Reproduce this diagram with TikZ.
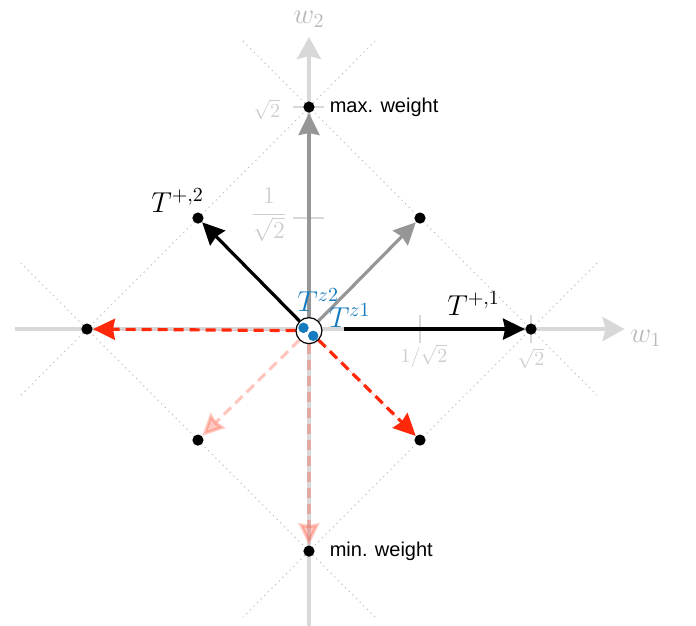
\documentclass[tikz,border=0pt]{standalone}
\usepackage{fontspec}
\setsansfont{Liberation Sans}
\usetikzlibrary{arrows.meta,positioning}
\definecolor{axisgray}{RGB}{216,216,216}
\definecolor{axislabel}{RGB}{185,185,185}
\definecolor{ticklabel}{RGB}{205,205,205}
\definecolor{mirrorgray}{RGB}{190,190,190}
\definecolor{rootgray}{RGB}{150,150,150}
\definecolor{lowred}{RGB}{255,40,10}
\definecolor{zeroblue}{RGB}{22,122,190}
\tikzset{
  axis/.style={draw=axisgray,line width=2pt,-{Stealth[length=11pt,width=12pt,inset=1.5pt,fill=axisgray]}},
  mirror/.style={draw=mirrorgray,dotted,line width=0.55pt},
  tickmark/.style={draw=axisgray,line width=1pt},
  ticklab/.style={text=ticklabel,inner sep=0pt},
  axislab/.style={text=axislabel,font=\Large,anchor=base west,inner sep=0pt},
  spot/.style={circle,inner sep=0pt,minimum size=5.6pt},
  root/.style={line width=1.6pt,-{Stealth[length=11pt,width=10.5pt,inset=1pt]}},
  lowroot/.style={root,draw=lowred,dash pattern=on 5pt off 3pt},
  paleroot/.style={lowroot,opacity=0.25},
  rootlab/.style={font=\Large,anchor=base west,inner sep=0pt},
  zerolab/.style={rootlab,text=zeroblue},
  zerodot/.style={circle,fill=zeroblue,inner sep=0pt,minimum size=5.2pt},
  weightlab/.style={font=\sffamily,anchor=west,inner sep=0pt}
}

\begin{document}
\begin{tikzpicture}[x=78.5pt,y=78.5pt]
  \useasboundingbox (-1.968,-1.885) rectangle (2.465,2.096);

  % Achsen und gespiegelte Rauten
  \draw[axis] (-1.87,0) -- (2.01,0);
  \draw[axis] (0,-1.9) -- (0,1.86);
  \foreach \ang in {0,90,180,270}{
    \draw[mirror,rotate=\ang] (-0.42,1.834) -- (1.834,-0.42);
  }
  \foreach \t in {0.7071,1.4142}{
    \draw[tickmark] (\t,-0.09) -- (\t,0.09);
    \draw[tickmark] (-0.1,\t) -- (0.095,\t);
  }

  \node[ticklab] at (-0.268,1.40) {$\sqrt{2}$};
  \node[ticklab] at (-0.255,0.726) {\large$\displaystyle\frac{1}{\sqrt{2}}$};
  \node[ticklab] at (0.733,-0.17) {$1/\sqrt{2}$};
  \node[ticklab] at (1.414,-0.185) {$\sqrt{2}$};
  \node[axislab] at (2.045,-0.083) {$w_1$};
  \node[axislab] at (-0.102,1.949) {$w_2$};

  % Gewichte
  \node[spot] (top) at (0,1.4142) {};
  \node[spot] (bot) at (0,-1.4142) {};
  \node[spot] (lft) at (-1.4142,0) {};
  \node[spot] (rgt) at (1.4142,0) {};
  \node[spot] (ne) at (0.7071,0.7071) {};
  \node[spot] (nw) at (-0.7071,0.7071) {};
  \node[spot] (sw) at (-0.7071,-0.7071) {};
  \node[spot] (se) at (0.7071,-0.7071) {};
  \node[circle,inner sep=0pt,minimum size=13pt] (o) at (0,-0.01) {};
  \coordinate (start1) at (0.22,0);

  \draw[root,draw=rootgray,fill=rootgray] (o) -- (top);
  \draw[root,draw=rootgray,fill=rootgray] (o) -- (ne);
  \draw[root,fill=black] (o) -- (nw);
  \draw[root,fill=black] (start1) -- (rgt);
  \draw[lowroot,fill=lowred] (o) -- (lft);
  \draw[lowroot,fill=lowred] (o) -- (se);
  \draw[paleroot,fill=lowred] (o) -- (sw);
  \draw[paleroot,fill=lowred] (o) -- (bot);

  \foreach \n in {top,bot,lft,rgt,ne,nw,sw,se}{
    \fill (\n) circle (2.8pt);
  }
  \node[circle,draw,fill=white,line width=0.6pt,inner sep=0pt,minimum size=13pt] at (o) {};
  \node[zerodot] (z2) at (-0.035,0.008) {};
  \node[zerodot] (z1) at (0.027,-0.043) {};

  \node[weightlab] at (0.13,1.4142) {max. weight};
  \node[weightlab] at (0.13,-1.4142) {min. weight};
  \node[rootlab] at (-1.006,0.745) {$T^{+,2}$};
  \node[rootlab] at (0.879,0.089) {$T^{+,1}$};
  \node[zerolab] at (-0.076,0.11) {$T^{z2}$};
  \node[zerolab] at (0.125,0.013) {$T^{z1}$};
\end{tikzpicture}
\end{document}
